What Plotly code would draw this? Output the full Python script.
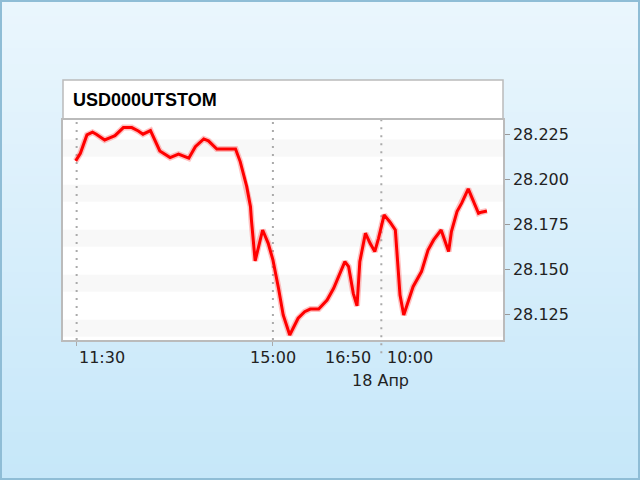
import plotly.graph_objects as go

# ---- data (x = trading minutes since 11:30 on day 1, intraday gaps removed) ----
minutes = [0, 5, 12, 18, 22, 31, 37, 42, 51, 60, 67, 72, 80, 85, 90, 101, 110, 121, 128, 137,
           142, 151, 171, 176, 181, 183, 187, 188, 192, 197, 200, 206, 211, 217, 222, 229, 238, 245, 251, 260,
           269, 276, 288, 292, 297, 301, 304, 310, 315, 320, 324, 330, 336, 342, 345, 347, 351, 356, 361, 370,
           377, 383, 391, 399, 402, 408, 413, 420, 425, 431, 434, 440]
price = [28.2102, 28.2144, 28.2246, 28.2261, 28.2250, 28.2218, 28.2231, 28.2242, 28.2287, 28.2287,
         28.2268, 28.2250, 28.2270, 28.2218, 28.2157, 28.2120, 28.2139, 28.2117, 28.2181, 28.2224,
         28.2213, 28.2168, 28.2168, 28.2098, 28.1996, 28.1959, 28.1848, 28.1774, 28.1546, 28.1663,
         28.1718, 28.1644, 28.1552, 28.1394, 28.1246, 28.1135, 28.1228, 28.1264, 28.1279, 28.1279,
         28.1329, 28.1394, 28.1542, 28.1514, 28.1366, 28.1297, 28.1542, 28.1700, 28.1644, 28.1598,
         28.1672, 28.1802, 28.1764, 28.1718, 28.1506, 28.1357, 28.1246, 28.1320, 28.1403, 28.1487,
         28.1607, 28.1663, 28.1718, 28.1598, 28.1709, 28.1820, 28.1867, 28.1946, 28.1885, 28.1811,
         28.1817, 28.1824]

title_text = "USD000UTSTOM"
y_ticks = [28.125, 28.150, 28.175, 28.200, 28.225]
x_tick_labels = ["11:30", "15:00", "16:50", "10:00"]
x_tick_pos = [1, 211, 318, 331]
x_tick_anchor = ["left", "center", "right", "left"]
grid_minutes = [1, 211, 327]      # 11:30, 15:00, day boundary
date_label = "18 Апр"
date_pos = 326

# ---- figure geometry ----
W, H = 640, 480
ML, MR, MT, MB = 63, 137, 120, 140
PW, PH = W - ML - MR, H - MT - MB

def px_x(p):  # figure px -> paper x
    return (p - ML) / PW

def px_y(p):  # figure px -> paper y
    return (H - MB - p) / PH

shapes = []
# gradient background
n = 60
top = (0xEA, 0xF6, 0xFD)
bot = (0xC6, 0xE7, 0xF9)
for i in range(n):
    t = i / (n - 1)
    c = tuple(round(top[k] + (bot[k] - top[k]) * t) for k in range(3))
    y0 = H * i / n
    y1 = H * (i + 1) / n + 1
    shapes.append(dict(type="rect", xref="paper", yref="paper", layer="below",
                       x0=px_x(0), x1=px_x(W), y0=px_y(y1), y1=px_y(y0),
                       fillcolor="rgb(%d,%d,%d)" % c, line=dict(width=0)))
# plot area background
shapes.append(dict(type="rect", xref="paper", yref="paper", layer="below",
                   x0=0, x1=1, y0=0, y1=1, fillcolor="white", line=dict(width=0)))
# outer border
shapes.append(dict(type="rect", xref="paper", yref="paper", layer="above",
                   x0=px_x(1), x1=px_x(W - 1), y0=px_y(H - 1), y1=px_y(1),
                   line=dict(color="#8fbdd6", width=2)))
# title box
shapes.append(dict(type="rect", xref="paper", yref="paper", layer="below",
                   x0=0, x1=1, y0=px_y(119), y1=px_y(80),
                   fillcolor="white", line=dict(color="#bbbbbb", width=1.5)))
# faint horizontal bands
for v in y_ticks + [28.250]:
    shapes.append(dict(type="rect", xref="paper", yref="y", layer="below",
                       x0=0, x1=1, y0=v - 0.0125, y1=v - 0.003,
                       fillcolor="#f8f8f8", line=dict(width=0)))
# dotted vertical lines
for m in grid_minutes:
    shapes.append(dict(type="line", xref="x", yref="paper", layer="below",
                       x0=m, x1=m, y0=-0.06 if m == 327 else 0, y1=1,
                       line=dict(color="#aaaaaa", width=2, dash="2px,6px")))

annotations = [dict(text="<b>%s</b>" % title_text, xref="paper", yref="paper",
                    x=px_x(71), y=px_y(100), xanchor="left", yanchor="middle",
                    showarrow=False, font=dict(family="Liberation Sans", size=18, color="#000"))]
for lab, pos, anc in zip(x_tick_labels, x_tick_pos, x_tick_anchor):
    annotations.append(dict(text=lab, x=pos, xref="x", y=px_y(357), yref="paper",
                            xanchor=anc, yanchor="middle", showarrow=False,
                            font=dict(family="DejaVu Sans", size=16, color="#222")))
annotations.append(dict(text=date_label, x=date_pos, xref="x", y=px_y(380), yref="paper",
                        xanchor="center", yanchor="middle", showarrow=False,
                        font=dict(family="DejaVu Sans", size=16, color="#222")))

fig = go.Figure()
fig.add_trace(go.Scatter(x=minutes, y=price, mode="lines",
                         line=dict(color="rgba(255,80,80,0.35)", width=6),
                         hoverinfo="skip", showlegend=False))
fig.add_trace(go.Scatter(x=minutes, y=price, mode="lines",
                         line=dict(color="#ff0000", width=3), showlegend=False))

fig.update_layout(
    width=W, height=H,
    margin=dict(l=ML, r=MR, t=MT, b=MB, pad=0),
    paper_bgcolor="#d8eefb",
    plot_bgcolor="white",
    shapes=shapes,
    annotations=annotations,
    showlegend=False,
    xaxis=dict(range=[-13.6, 457.2], showgrid=False, zeroline=False,
               showline=True, mirror=True, linecolor="#bbbbbb", linewidth=1.5,
               tickvals=[1, 211], ticks="outside", ticklen=4, tickcolor="#aaaaaa",
               showticklabels=False),
    yaxis=dict(range=[28.1107, 28.2329], side="right", showgrid=False, zeroline=False,
               showline=True, mirror=True, linecolor="#bbbbbb", linewidth=1.5,
               tickvals=y_ticks, tickformat=".3f", ticks="outside", ticklen=5,
               tickcolor="#999999",
               tickfont=dict(family="DejaVu Sans", size=16, color="#222")),
)

fig.write_html("out.html", config={"displayModeBar": False},
               post_script="document.body.style.margin='0';document.body.style.padding='0';")
